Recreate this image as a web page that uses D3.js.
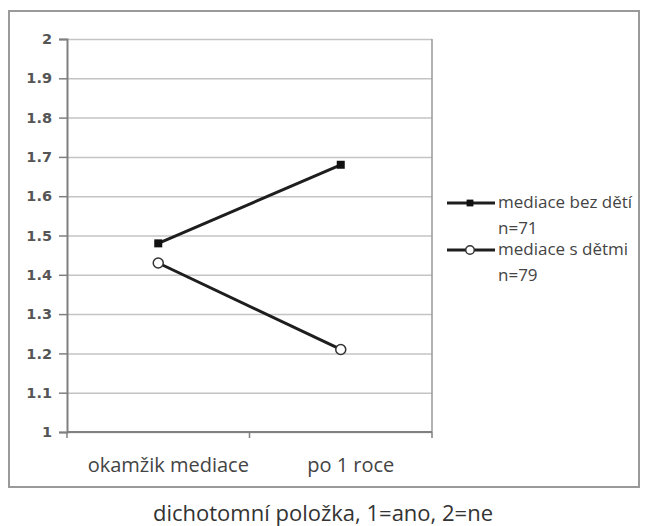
<!DOCTYPE html>
<html>
<head>
<meta charset="utf-8">
<script src="https://cdn.jsdelivr.net/npm/d3@7"></script>
<style>
	body { margin: 0; background: #fff; }
</style>
</head>
<body>
<div id="chart"></div>
<script>
// data
var categories = ["okamžik mediace", "po 1 roce"];
var seriesNames = ["mediace bez dětí", "mediace s dětmi"];
var seriesCounts = ["n=71", "n=79"];
var bezDeti = [1.48, 1.68];
var sDetmi = [1.43, 1.21];
var yTicks = [1, 1.1, 1.2, 1.3, 1.4, 1.5, 1.6, 1.7, 1.8, 1.9, 2];
var caption = "dichotomní položka, 1=ano, 2=ne";

var W = 645, H = 526;
var plotLeft = 67, plotRight = 432, plotTop = 39, plotBottom = 432;

var svg = d3.select("#chart").append("svg")
	.attr("width", W)
	.attr("height", H);

// outer frame
svg.append("rect")
	.attr("x", 9).attr("y", 11)
	.attr("width", 630).attr("height", 476)
	.style("fill", "none")
	.style("stroke", "#9a9a9a")
	.style("stroke-width", 2);

var x = d3.scaleBand().domain(categories).range([plotLeft, plotRight]);
var y = d3.scaleLinear().domain([1, 2]).range([plotBottom, plotTop]);

// grid
svg.append("g")
	.attr("transform", "translate(" + plotLeft + ",0)")
	.call(d3.axisLeft(y).tickValues(yTicks).tickSize(-(plotRight - plotLeft)).tickFormat(""))
	.call(function(g) { g.select(".domain").remove(); })
	.selectAll("line")
	.style("stroke", "#c4c4c4")
	.style("stroke-width", 1.5);

// plot border right
svg.append("line")
	.attr("x1", plotRight).attr("x2", plotRight)
	.attr("y1", plotTop).attr("y2", plotBottom)
	.style("stroke", "#999")
	.style("stroke-width", 1.5);

// y axis
var yAxis = svg.append("g")
	.attr("transform", "translate(" + plotLeft + ",0)")
	.call(d3.axisLeft(y).tickValues(yTicks).tickSize(8).tickPadding(7)
		.tickFormat(function(d) { return (d === 1 || d === 2) ? d : d.toFixed(1); }));
yAxis.select(".domain").style("stroke", "#808080").style("stroke-width", 2);
yAxis.selectAll("line").style("stroke", "#808080").style("stroke-width", 1.5);
yAxis.selectAll("text")
	.style("font-family", "DejaVu Sans")
	.style("font-weight", "bold")
	.style("font-size", "14.5px")
	.style("fill", "#555");

// x axis
svg.append("line")
	.attr("x1", plotLeft).attr("x2", plotRight)
	.attr("y1", plotBottom).attr("y2", plotBottom)
	.style("stroke", "#808080")
	.style("stroke-width", 2);

var xTickPos = categories.map(function(c) { return x(c); }).concat([plotRight]);
svg.selectAll(".xtick")
	.data(xTickPos)
	.enter().append("line")
	.attr("x1", function(d) { return d; })
	.attr("x2", function(d) { return d; })
	.attr("y1", plotBottom)
	.attr("y2", plotBottom + 6)
	.style("stroke", "#808080")
	.style("stroke-width", 1.5);

// popisky kategorii (v predloze lehce posunute doprava)
svg.selectAll(".xlabel")
	.data(categories)
	.enter().append("text")
	.attr("x", function(d) { return x(d) + x.bandwidth() / 2 + 10; })
	.attr("y", 472)
	.text(function(d) { return d; })
	.style("font-family", "Open Sans")
	.style("font-size", "20px")
	.style("fill", "#444")
	.style("text-anchor", "middle");

// series
var series = [
	{ name: seriesNames[0], n: seriesCounts[0], values: bezDeti, marker: "square" },
	{ name: seriesNames[1], n: seriesCounts[1], values: sDetmi, marker: "circle" }
];

var line = d3.line()
	.x(function(d, i) { return x(categories[i]) + x.bandwidth() / 2; })
	.y(function(d) { return y(d); });

series.forEach(function(s) {
	svg.append("path")
		.attr("d", line(s.values))
		.style("fill", "none")
		.style("stroke", "#1e1e1e")
		.style("stroke-width", 3);

	s.values.forEach(function(v, i) {
		drawMarker(svg, s.marker, x(categories[i]) + x.bandwidth() / 2, y(v), 1);
	});
});

/**
 * draw one marker
 */
function drawMarker(g, type, cx, cy, k) {
	if (type === "square") {
		g.append("rect")
			.attr("x", cx - 4 * k).attr("y", cy - 4 * k)
			.attr("width", 8 * k).attr("height", 8 * k)
			.style("fill", "#111");
	} else {
		g.append("circle")
			.attr("cx", cx).attr("cy", cy).attr("r", 5 * k)
			.style("fill", "#fff")
			.style("stroke", "#333")
			.style("stroke-width", 1.5);
	}
}

// legend
var legendY = [203, 250];
series.forEach(function(s, i) {
	var ly = legendY[i];
	svg.append("line")
		.attr("x1", 447).attr("x2", 495)
		.attr("y1", ly).attr("y2", ly)
		.style("stroke", "#1e1e1e")
		.style("stroke-width", 3);
	drawMarker(svg, s.marker, 470, ly, 0.85);
	svg.append("text")
		.attr("x", 498).attr("y", ly + 5)
		.text(s.name)
		.style("font-family", "Open Sans")
		.style("font-size", "17px")
		.style("fill", "#444");
	svg.append("text")
		.attr("x", 498).attr("y", ly + 31)
		.text(s.n)
		.style("font-family", "Open Sans")
		.style("font-size", "17px")
		.style("fill", "#444");
});

// caption
svg.append("text")
	.attr("x", 323).attr("y", 521)
	.text(caption)
	.style("font-family", "Open Sans")
	.style("font-size", "22px")
	.style("fill", "#333")
	.style("text-anchor", "middle");
</script>
</body>
</html>
